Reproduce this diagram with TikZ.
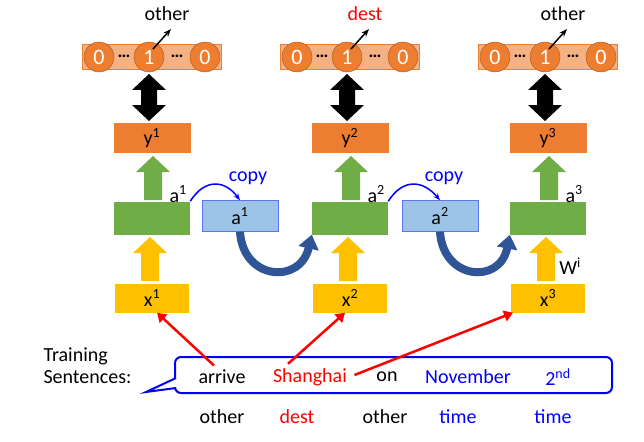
\documentclass[tikz,border=0pt]{standalone}
\usepackage{fontspec}
\setmainfont{Carlito}
\usetikzlibrary{arrows.meta}
\definecolor{org}{HTML}{ED7D31}
\definecolor{orgl}{HTML}{F4B183}
\definecolor{grn}{HTML}{70AD47}
\definecolor{yel}{HTML}{FFC000}
\definecolor{lblue}{HTML}{9DC3E6}
\definecolor{dblue}{HTML}{2F5597}
\newcommand\blkup[4]{% x, ytop(head tip), ybot, color
  \fill[#4] (#1-9,#3) -- (#1+9,#3) -- (#1+9,#2+16) -- (#1+17,#2+16) -- (#1,#2) -- (#1-17,#2+16) -- (#1-9,#2+16) -- cycle;}
\newcommand\blkdbl[3]{% x, ytop, ybot
  \fill[black] (#1,#2) -- (#1+17,#2+16) -- (#1+8,#2+16) -- (#1+8,#3-16) -- (#1+17,#3-16) -- (#1,#3) -- (#1-17,#3-16) -- (#1-8,#3-16) -- (#1-8,#2+16) -- (#1-17,#2+16) -- cycle;}
\begin{document}
\begin{tikzpicture}[x=1pt,y=-1pt,
  txt/.style={font=\fontsize{20}{22}\selectfont},
  circ/.style={circle,fill=org,draw=org!70!black,minimum size=30pt,inner sep=0pt,text=white,font=\fontsize{22}{24}\selectfont},
  bar/.style={fill=orgl,draw=org,minimum width=139pt,minimum height=25pt},
  ybox/.style={fill=org,minimum width=77pt,minimum height=30pt,txt},
  gbox/.style={fill=grn,minimum width=76pt,minimum height=33pt},
  cbox/.style={fill=lblue,draw=lblue!60!blue,minimum width=76pt,minimum height=31pt,txt},
  xbox/.style={fill=yel,minimum width=74pt,minimum height=29pt,txt},
  redarr/.style={draw=red,line width=2.5pt,-{Triangle[length=9pt,width=11pt]}}]
\useasboundingbox (0,0) rectangle (644,441);
\foreach \i/\c/\lab/\lc in {1/152/other/black,2/350/dest/red,3/548/other/black}{
  \node[bar] (bar\i) at (\c,57) {};
  \node[circ] (z\i) at (\c-53,57) {0};
  \node[circ] (o\i) at (\c-3,57) {1};
  \node[circ] (e\i) at (\c+53,57) {0};
  \node[font=\fontsize{18}{20}\selectfont] at (\c-28,56) {\textbf{…}};
  \node[font=\fontsize{18}{20}\selectfont] at (\c+25,56) {\textbf{…}};
  \node[txt,text=\lc] (lab\i) at (\c+15,14) {\lab};
  \draw[line width=1.5pt,-{Stealth[length=8pt]}] (o\i.center) ++(4,-8) -- ++(18,-20);
  \blkdbl{\c-3}{74}{121}
  \node[ybox] (y\i) at (\c,138) {y\textsuperscript{\i}};
  \blkup{\c+1}{156}{200}{grn}
  \node[gbox] (g\i) at (\c,218) {};
  \node[txt,anchor=south west] (as\i) at (\c+14,206) {a\textsuperscript{\i}};
  \blkup{\c-2}{237}{281}{yel}
  \node[xbox] (x\i) at (\c,298) {x\textsuperscript{\i}};
}
\node[cbox] (c1) at (240,216) {a\textsuperscript{1}};
\node[cbox] (c2) at (440,216) {a\textsuperscript{2}};
\node[txt,text=blue] (cp1) at (248,178) {copy};
\node[txt,text=blue] (cp2) at (444,178) {copy};
\draw[blue,line width=1.5pt,-{Stealth[length=7pt]}] (g1.north east) .. controls (205,178) and (225,180) .. (c1.north);
\draw[blue,line width=1.5pt,-{Stealth[length=7pt]}] (g2.north east) .. controls (403,178) and (423,180) .. (c2.north);
\draw[dblue,line width=8pt,-{Triangle[length=14pt,width=20pt]}] (c1.south) .. controls (243,280) and (300,285) .. (g2.south west);
\draw[dblue,line width=8pt,-{Triangle[length=14pt,width=20pt]}] (c2.south) .. controls (443,280) and (500,285) .. (g3.south west);
\node[txt] (wi) at (570,266) {W\textsuperscript{i}};
\node[txt,align=left,anchor=west] (ts) at (40,366) {Training\\Sentences:};
\draw[blue,line width=2pt,rounded corners=6pt] (175,378) -- (175,357) -- (612,357) -- (612,393) -- (175,393) -- (175,388);
\draw[blue,line width=2pt,fill=white] (176,378) -- (146,392) -- (176,388);
\node[txt] (w1) at (222,377) {arrive};
\node[txt,text=red] (w2) at (310,377) {Shanghai};
\node[txt] (w3) at (387,377) {on};
\node[txt,text=blue] (w4) at (468,377) {November};
\node[txt,text=blue] (w5) at (558,377) {2\textsuperscript{nd}};
\node[txt] (t1) at (222,417) {other};
\node[txt,text=red] (t2) at (297,417) {dest};
\node[txt] (t3) at (385,417) {other};
\node[txt,text=blue] (t4) at (458,417) {time};
\node[txt,text=blue] (t5) at (553,417) {time};
\draw[redarr] (w1.north) ++(-8,-1) -- ([xshift=5pt]x1.south);
\draw[redarr] (w2.north) ++(-22,-1) -- ([xshift=-5pt]x2.south);
\draw[redarr] (w2.east) ++(4,-2) -- ([xshift=-35pt]x3.south);
\end{tikzpicture}
\end{document}
